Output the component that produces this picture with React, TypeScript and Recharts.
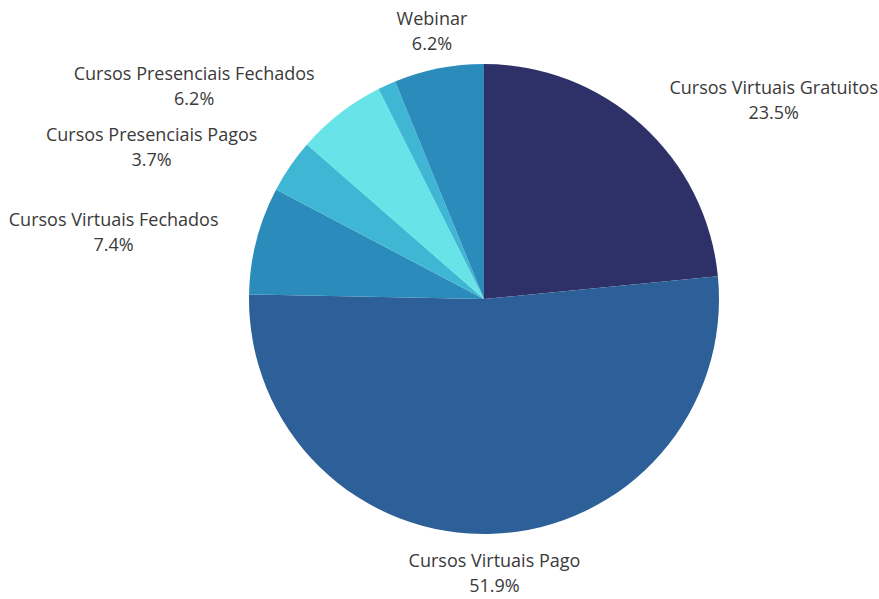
import { PieChart, Pie, Cell } from 'recharts';

const categories = [
  'Cursos Virtuais Gratuitos',
  'Cursos Virtuais Pago',
  'Cursos Virtuais Fechados',
  'Cursos Presenciais Pagos',
  'Cursos Presenciais Fechados',
  'Outros',
  'Webinar',
];
const totals = [19, 42, 6, 3, 5, 1, 5];
const colors = ['#2e3168', '#2d5f98', '#2b8bbb', '#3fb7d4', '#68e4e8', '#3fb7d4', '#2b8bbb'];

const data = categories.map((name, i) => ({ name, total: totals[i] }));

const FONT = '"Open Sans", sans-serif';
const FONT_SIZE = 18;
const RAD = Math.PI / 180;

let ctx: CanvasRenderingContext2D | null = null;
function textWidth(s: string) {
  if (!ctx) ctx = document.createElement('canvas').getContext('2d');
  if (!ctx) return s.length * 9;
  ctx.font = `${FONT_SIZE}px ${FONT}`;
  return ctx.measureText(s).width;
}

function renderLabel(props: any) {
  const { cx, cy, midAngle, outerRadius, percent, name } = props;
  if (percent < 0.02) return null;
  const r = outerRadius + 35;
  const cos = Math.cos(midAngle * RAD);
  const sin = Math.sin(midAngle * RAD);
  const x = cx + r * cos;
  let y = cy - r * sin;
  const pct = `${(percent * 100).toFixed(1)}%`;
  const w = Math.max(textWidth(name), textWidth(pct));
  let center = x;
  if (Math.abs(cos) < 0.3) {
    y -= sin * 4;
  } else {
    center = cos > 0 ? x + 4 + w / 2 : x - 4 - w / 2;
  }
  return (
    <g>
      <text x={center} y={y - 12.5} textAnchor="middle" dominantBaseline="central" fill="#3a3a3a" fontSize={FONT_SIZE} fontFamily={FONT}>
        {name}
      </text>
      <text x={center} y={y + 12.5} textAnchor="middle" dominantBaseline="central" fill="#3a3a3a" fontSize={FONT_SIZE} fontFamily={FONT}>
        {pct}
      </text>
    </g>
  );
}

export default function App() {
  return (
    <div style={{ position: 'fixed', left: 0, top: 0, background: '#fff' }}>
      <PieChart width={879} height={599} margin={{ top: 0, right: 0, bottom: 0, left: 0 }}>
        <Pie
          data={data}
          dataKey="total"
          nameKey="name"
          cx={484}
          cy={299}
          outerRadius={235}
          startAngle={90}
          endAngle={-270}
          stroke="none"
          labelLine={false}
          label={renderLabel}
          isAnimationActive={false}
        >
          {data.map((entry, index) => (
            <Cell key={`cell-${index}`} fill={colors[index]} />
          ))}
        </Pie>
      </PieChart>
    </div>
  );
}
